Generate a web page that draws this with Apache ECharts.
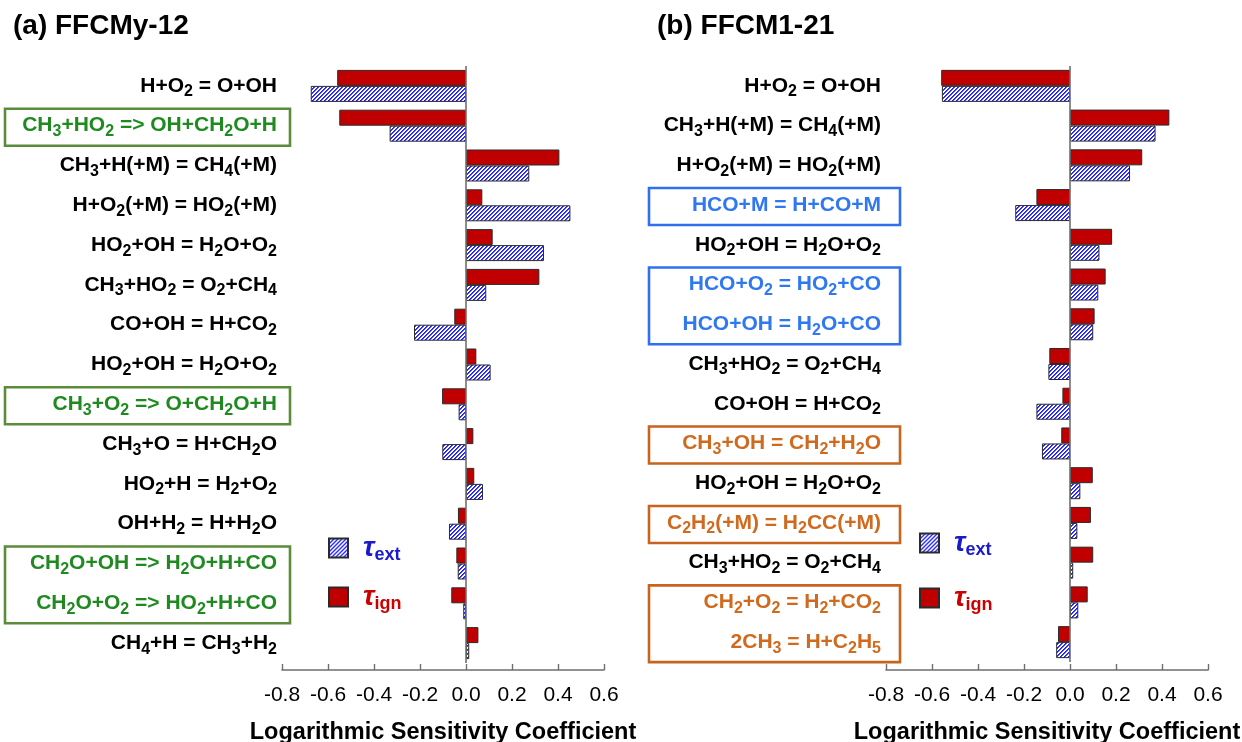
<!DOCTYPE html>
<html><head><meta charset="utf-8">
<script src="https://cdn.jsdelivr.net/npm/echarts@6/dist/echarts.min.js"></script>
<style>html,body{margin:0;padding:0;background:#fff}#c{width:1242px;height:742px}</style>
</head><body><div id="c"></div>
<script>
// ---------------- data ----------------
const titles = ['(a) FFCMy-12', '(b) FFCM1-21'];
const axisTitle = 'Logarithmic Sensitivity Coefficient';
const xMin = -0.8, xMax = 0.6, xStep = 0.2;

const leftCategories = [
  'H+O2 = O+OH',
  'CH3+HO2 => OH+CH2O+H',
  'CH3+H(+M) = CH4(+M)',
  'H+O2(+M) = HO2(+M)',
  'HO2+OH = H2O+O2',
  'CH3+HO2 = O2+CH4',
  'CO+OH = H+CO2',
  'HO2+OH = H2O+O2',
  'CH3+O2 => O+CH2O+H',
  'CH3+O = H+CH2O',
  'HO2+H = H2+O2',
  'OH+H2 = H+H2O',
  'CH2O+OH => H2O+H+CO',
  'CH2O+O2 => HO2+H+CO',
  'CH4+H = CH3+H2'
];
const leftIgn = [-0.56, -0.551, 0.406, 0.071, 0.116, 0.319, -0.051, 0.045, -0.104, 0.032, 0.036, -0.035, -0.042, -0.064, 0.054];
const leftExt = [-0.675, -0.332, 0.275, 0.454, 0.339, 0.088, -0.226, 0.107, -0.032, -0.103, 0.074, -0.074, -0.036, -0.012, 0.014];
// colour group of each label: 0 black, 1 green, 2 blue, 3 orange
const leftLabelGroup = [0,1,0,0,0,0,0,0,1,0,0,0,1,1,0];
const leftBoxes = [{rows:[1,1], group:1}, {rows:[8,8], group:1}, {rows:[12,13], group:1}];

const rightCategories = [
  'H+O2 = O+OH',
  'CH3+H(+M) = CH4(+M)',
  'H+O2(+M) = HO2(+M)',
  'HCO+M = H+CO+M',
  'HO2+OH = H2O+O2',
  'HCO+O2 = HO2+CO',
  'HCO+OH = H2O+CO',
  'CH3+HO2 = O2+CH4',
  'CO+OH = H+CO2',
  'CH3+OH = CH2+H2O',
  'HO2+OH = H2O+O2',
  'C2H2(+M) = H2CC(+M)',
  'CH3+HO2 = O2+CH4',
  'CH2+O2 = H2+CO2',
  '2CH3 = H+C2H5'
];
const rightIgn = [-0.56, 0.432, 0.314, -0.146, 0.183, 0.155, 0.107, -0.09, -0.033, -0.038, 0.099, 0.091, 0.101, 0.077, -0.052];
const rightExt = [-0.557, 0.372, 0.261, -0.238, 0.128, 0.123, 0.101, -0.094, -0.146, -0.122, 0.045, 0.032, 0.014, 0.036, -0.06];
const rightLabelGroup = [0,0,0,2,0,2,2,0,0,3,0,3,0,3,3];
const rightBoxes = [{rows:[3,3], group:2}, {rows:[5,6], group:2}, {rows:[9,9], group:3}, {rows:[11,11], group:3}, {rows:[13,14], group:3}];

const seriesNames = ['ign', 'ext'];

// ---------------- styles ----------------
const FONT = '"Liberation Sans", Arial, sans-serif';
const textPalette = ['#000000', '#1f8a1f', '#2f78f0', '#cf6a1e'];
const boxPalette = ['#000000', '#5b8c3a', '#2f6ff0', '#c8641e'];

function makeHatch() {
  const c = document.createElement('canvas');
  c.width = 4; c.height = 4;
  const g = c.getContext('2d');
  g.fillStyle = '#ffffff'; g.fillRect(0,0,4,4);
  for (let x = 0; x < 4; x++) for (let y = 0; y < 4; y++) {
    const k = (x + y) % 4;
    if (k === 0) { g.fillStyle = '#1a1aff'; g.fillRect(x,y,1,1); }
    else if (k === 1) { g.fillStyle = '#4646ff'; g.fillRect(x,y,1,1); }
  }
  return c;
}
const hatch = makeHatch();

function richLabel(text, grp) {
  let out = '', buf = '', cur = null;
  for (let i = 0; i < text.length; i++) {
    const ch = text[i];
    const sub = /[0-9]/.test(ch) && i > 0 && /[A-Za-z]/.test(text[i-1]);
    if (cur !== null && sub !== cur) { out += '{' + (cur ? 's' : 'm') + grp + '|' + buf + '}'; buf = ''; }
    buf += ch; cur = sub;
  }
  if (buf) out += '{' + (cur ? 's' : 'm') + grp + '|' + buf + '}';
  return out;
}
const rich = {};
textPalette.forEach((col, i) => {
  rich['m' + i] = {color: col, fontSize: 21, fontWeight: 'bold', fontFamily: FONT};
  rich['s' + i] = {color: col, fontSize: 16, fontWeight: 'bold', fontFamily: FONT, padding: [12,0,0,0]};
});

const grids = [
  {left: 282, right: 638, top: 66, bottom: 79, outerBoundsMode: 'none', containLabel: false},
  {left: 886, right: 34, top: 66, bottom: 80, outerBoundsMode: 'none', containLabel: false}
];

function xAxisFor(i, offset) {
  return {
    type: 'value', gridIndex: i, min: xMin, max: xMax, interval: xStep, offset: offset,
    axisLine: {show: true, lineStyle: {color: '#6e6e6e', width: 1.6}},
    axisTick: {show: true, inside: true, length: 6, lineStyle: {color: '#6e6e6e', width: 1.4}},
    splitLine: {show: false},
    axisLabel: {color: '#000', fontSize: 21, fontFamily: FONT, margin: 15, formatter: v => v.toFixed(1)},
    name: axisTitle, nameLocation: 'middle', nameGap: 51,
    nameTextStyle: {color: '#000', fontSize: 23.5, fontWeight: 'bold', fontFamily: FONT}
  };
}
function yAxisFor(i, cats, groups) {
  return {
    type: 'category', gridIndex: i, data: cats, inverse: true,
    axisLine: {show: false}, axisTick: {show: false}, splitLine: {show: false},
    axisLabel: {interval: 0, margin: 5, formatter: (v, idx) => richLabel(cats[idx], groups[idx]), rich: rich}
  };
}
function barSeries(i, ign, ext) {
  return [
    {name: 'ign', type: 'bar', xAxisIndex: i, yAxisIndex: i, data: ign, barWidth: 16, barGap: '0%',
     itemStyle: {color: '#c00000', borderColor: '#2a2a2a', borderWidth: 1},
     markLine: {silent: true, symbol: 'none', label: {show: false}, animation: false,
       lineStyle: {color: '#707070', width: 1.6, type: 'solid'}, data: [{xAxis: 0}]}},
    {name: 'ext', type: 'bar', xAxisIndex: i, yAxisIndex: i, data: ext, barWidth: 16, barGap: '0%',
     itemStyle: {color: {image: hatch, repeat: 'repeat'}, borderColor: '#2a2a2a', borderWidth: 1}}
  ];
}
const legendRich = {
  tb: {color: '#1a1acc', fontSize: 28, fontStyle: 'italic', fontWeight: 'bold', fontFamily: FONT, padding: [0,0,0,10]},
  sb: {color: '#1a1acc', fontSize: 18, fontWeight: 'bold', fontFamily: FONT, padding: [14,0,0,0]},
  tr: {color: '#cc0000', fontSize: 28, fontStyle: 'italic', fontWeight: 'bold', fontFamily: FONT, padding: [0,0,0,10]},
  sr: {color: '#cc0000', fontSize: 18, fontWeight: 'bold', fontFamily: FONT, padding: [14,0,0,0]}
};
function legendFor(left, top, gap) {
  return {
    data: ['ext', 'ign'], left: left, top: top, orient: 'vertical', padding: 0,
    itemWidth: 19, itemHeight: 19, itemGap: gap, icon: 'rect', selectedMode: false,
    formatter: n => n === 'ext' ? '{tb|τ}{sb|ext}' : '{tr|τ}{sr|ign}',
    textStyle: {rich: legendRich}
  };
}

const chart = echarts.init(document.getElementById('c'), null, {renderer: 'canvas'});
chart.setOption({
  animation: false,
  backgroundColor: '#fff',
  title: [
    {text: titles[0], left: 13, top: 12, padding: 0, textStyle: {fontSize: 28, fontWeight: 'bold', color: '#000', fontFamily: FONT}},
    {text: titles[1], left: 657, top: 12, padding: 0, textStyle: {fontSize: 28, fontWeight: 'bold', color: '#000', fontFamily: FONT}}
  ],
  legend: [legendFor(328, 534, 19), legendFor(919, 529, 25)],
  grid: grids,
  xAxis: [xAxisFor(0, 7), xAxisFor(1, 8)],
  yAxis: [yAxisFor(0, leftCategories, leftLabelGroup), yAxisFor(1, rightCategories, rightLabelGroup)],
  series: [...barSeries(0, leftIgn, leftExt), ...barSeries(1, rightIgn, rightExt)]
});

function boxGraphics(boxes, axisIdx, x0, x1) {
  return boxes.map(b => {
    const y0 = chart.convertToPixel({yAxisIndex: axisIdx}, b.rows[0]);
    const y1 = chart.convertToPixel({yAxisIndex: axisIdx}, b.rows[1]);
    return {type: 'rect', silent: true, z: 100,
      shape: {x: x0, y: y0 - 17, width: x1 - x0, height: (y1 - y0) + 37},
      style: {fill: 'none', stroke: boxPalette[b.group], lineWidth: 2.6}};
  });
}
chart.setOption({graphic: [...boxGraphics(leftBoxes, 0, 5, 290), ...boxGraphics(rightBoxes, 1, 649, 900)]});
</script>
</body></html>
